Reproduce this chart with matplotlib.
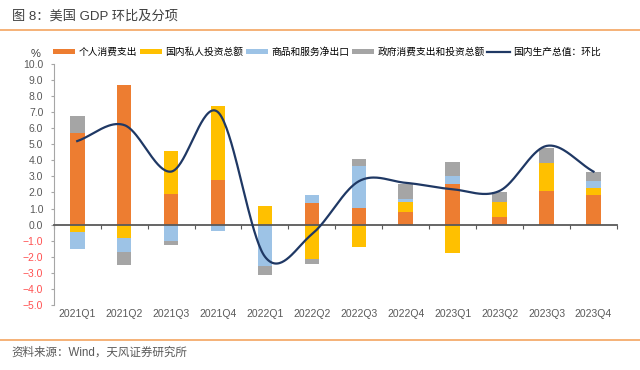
import numpy as np
import matplotlib
matplotlib.use('Agg')
import matplotlib.pyplot as plt
from matplotlib.patches import Patch
from matplotlib.lines import Line2D

plt.rcParams['font.family'] = ['Liberation Sans', 'Noto Sans CJK SC', 'DejaVu Sans']
plt.rcParams['axes.unicode_minus'] = False

# data (contributions to US GDP q/q annualised, %)
quarters = ['2021Q1', '2021Q2', '2021Q3', '2021Q4', '2022Q1', '2022Q2',
            '2022Q3', '2022Q4', '2023Q1', '2023Q2', '2023Q3', '2023Q4']
pce = [5.70, 8.70, 1.90, 2.75, 0.00, 1.33, 1.04, 0.79, 2.50, 0.50, 2.08, 1.85]
invest = [-0.45, -0.83, 2.70, 4.62, 1.15, -2.12, -1.42, 0.60, -1.75, 0.91, 1.74, 0.40]
net_exp = [-1.05, -0.89, -1.02, -0.38, -2.60, 0.52, 2.59, 0.23, 0.55, 0.00, 0.03, 0.45]
gov = [1.05, -0.78, -0.28, 0.00, -0.55, -0.31, 0.47, 0.93, 0.82, 0.59, 0.95, 0.55]
gdp = [5.2, 6.2, 3.3, 7.0, -2.0, -0.6, 2.7, 2.6, 2.2, 2.1, 4.9, 3.3]

names = ['个人消费支出', '国内私人投资总额', '商品和服务净出口', '政府消费支出和投资总额']
colors = ['#ED7D31', '#FFC000', '#9DC3E6', '#A5A5A5']
line_name = '国内生产总值：环比'
line_color = '#1F3864'


def catmull_rom(y, n=40):
    # smooth curve through points, like Excel's smoothed line
    y = np.asarray(y, dtype=float)
    p = np.concatenate([[2 * y[0] - y[1]], y, [2 * y[-1] - y[-2]]])
    xs, ys = [], []
    for i in range(len(y) - 1):
        p0, p1, p2, p3 = p[i], p[i + 1], p[i + 2], p[i + 3]
        c1 = p1 + (p2 - p0) / 6
        c2 = p2 - (p3 - p1) / 6
        t = np.linspace(0, 1, n)
        b = (1 - t) ** 3 * p1 + 3 * (1 - t) ** 2 * t * c1 + 3 * (1 - t) * t ** 2 * c2 + t ** 3 * p2
        xs.append(i + t)
        ys.append(b)
    return np.concatenate(xs), np.concatenate(ys)


fig = plt.figure(figsize=(6.4, 3.7), dpi=100)
ax = fig.add_axes([0.084, 0.176, 0.880, 0.651])

x = np.arange(len(quarters))
width = 0.31
pos_bottom = np.zeros(len(x))
neg_bottom = np.zeros(len(x))
for vals, c in zip([pce, invest, net_exp, gov], colors):
    v = np.array(vals)
    bottom = np.where(v >= 0, pos_bottom, neg_bottom)
    ax.bar(x, v, width, bottom=bottom, color=c, edgecolor='none', zorder=2)
    pos_bottom += np.where(v >= 0, v, 0)
    neg_bottom += np.where(v < 0, v, 0)

sx, sy = catmull_rom(gdp)
ax.plot(sx, sy, color=line_color, lw=1.6, zorder=4)

ax.set_xlim(-0.5, len(quarters) - 0.5)
ax.set_ylim(-5, 10)
yt = np.arange(-5, 11, 1)
ax.set_yticks(yt)
ax.set_yticklabels(['\u2212' + f'{-v:.1f}' if v < 0 else f'{v:.1f}' for v in yt])
for lab, v in zip(ax.get_yticklabels(), yt):
    lab.set_color('#FF5050' if v < 0 else '#595959')
ax.tick_params(axis='y', labelsize=7.5, length=2.5, color='#A6A6A6', pad=5)

# zero line carries the x ticks; labels sit at the bottom
ax.spines['bottom'].set_position(('data', 0))
ax.spines['bottom'].set_color('#595959')
ax.spines['bottom'].set_linewidth(1.3)
ax.spines['bottom'].set_zorder(3)
ax.set_xticks(np.arange(len(quarters) + 1) - 0.5)
ax.set_xticklabels([])
ax.tick_params(axis='x', which='major', length=3, color='#595959', direction='out')
ax.set_xticks(x, minor=True)
ax.set_xticklabels(quarters, minor=True)
ax.tick_params(axis='x', which='minor', length=0, labelsize=7.5, labelcolor='#595959', pad=61)
for s in ['top', 'right']:
    ax.spines[s].set_visible(False)
ax.spines['left'].set_color('#A6A6A6')

ax.text(-0.023, 1.04, '%', transform=ax.transAxes, fontsize=8, color='#404040',
        ha='right', va='center')

handles = [Patch(facecolor=c, label=n) for c, n in zip(colors, names)]
handles.append(Line2D([0], [0], color=line_color, lw=1.6, label=line_name))
fig.legend(handles=handles, loc='center left', bbox_to_anchor=(0.0766, 0.859), ncol=5,
           frameon=False, fontsize=7, handlelength=2.3, handleheight=0.45,
           handletextpad=0.3, columnspacing=0.3, borderaxespad=0)

fig.text(0.018, 0.957, '图 8：美国 GDP 环比及分项', fontsize=9.5, color='#404040',
         ha='left', va='center')
fig.add_artist(Line2D([0, 1], [0.919, 0.919], color='#F4A460', lw=1.2, transform=fig.transFigure))
fig.add_artist(Line2D([0, 1], [0.081, 0.081], color='#F4A460', lw=1.2, transform=fig.transFigure))
fig.text(0.018, 0.046, '资料来源：Wind，天风证券研究所', fontsize=8.3, color='#595959',
         ha='left', va='center')

fig.savefig('out.png', dpi=100)
